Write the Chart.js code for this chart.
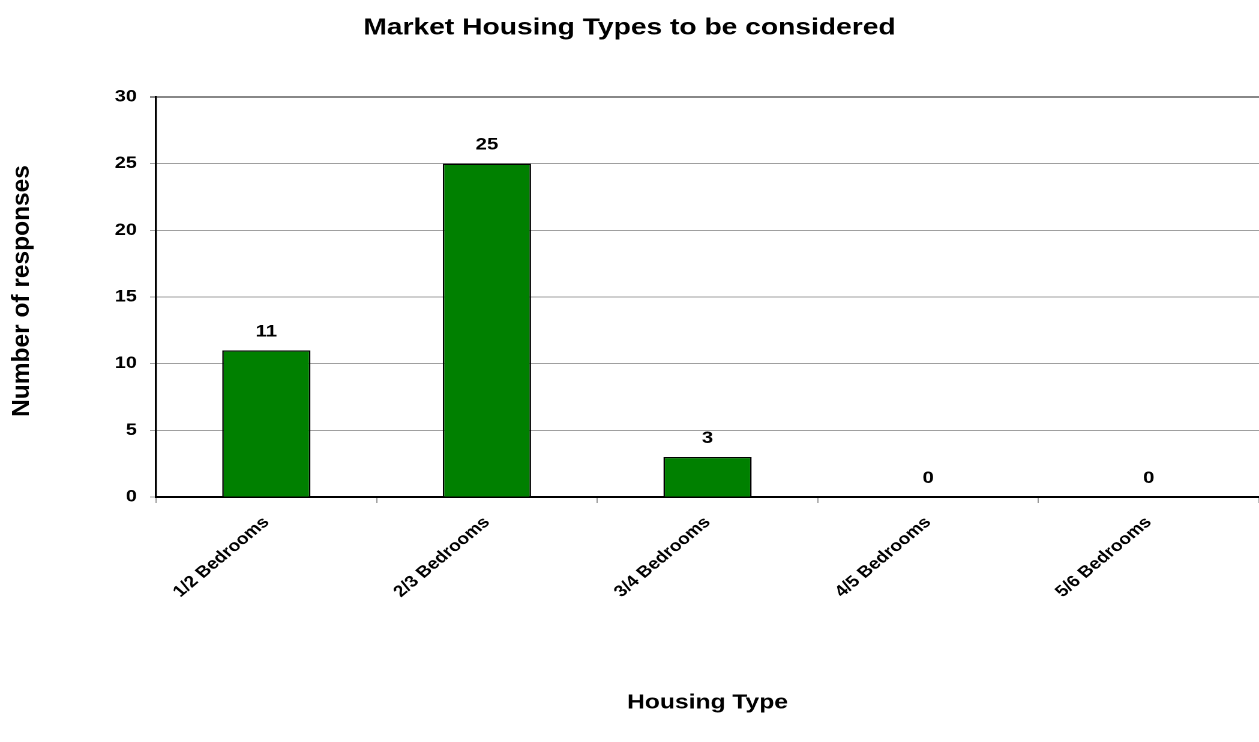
<!DOCTYPE html>
<html>
<head>
<meta charset="utf-8">
<title>Market Housing Types to be considered</title>
<script src="https://cdn.jsdelivr.net/npm/chart.js@4/dist/chart.umd.min.js"></script>
<style>
  html, body { margin: 0; padding: 0; background: #fff; overflow: hidden; }
  /* chart is laid out narrower, then widened to the full 1259px page */
  #wrap {
    width: 1049px; height: 742px; position: relative;
    transform: scaleX(1.2002); transform-origin: 0 0;
  }
</style>
</head>
<body>
<div id="wrap"><canvas id="chartHousing"></canvas></div>
<script>
const housingTypes = ["1/2 Bedrooms", "2/3 Bedrooms", "3/4 Bedrooms", "4/5 Bedrooms", "5/6 Bedrooms"];
const responses = [11, 25, 3, 0, 0];
const yTicks = [0, 5, 10, 15, 20, 25, 30];

const FONT = "'Liberation Sans', Arial, Helvetica, sans-serif";
const STRETCH = 1.2002;

// value printed above each bar
const barValues = {
  id: "barValues",
  afterDatasetsDraw(chart) {
    const ctx = chart.ctx;
    const meta = chart.getDatasetMeta(0);
    ctx.save();
    ctx.font = "bold 17px " + FONT;
    ctx.fillStyle = "#000";
    ctx.textAlign = "center";
    ctx.textBaseline = "alphabetic";
    meta.data.forEach((bar, i) => {
      ctx.fillText(String(responses[i]), bar.x, bar.y - 14);
    });
    ctx.restore();
  }
};

// vertical axis title, squeezed back so it keeps normal proportions after the widening
const yAxisTitle = {
  id: "yAxisTitle",
  afterDraw(chart) {
    const ctx = chart.ctx;
    ctx.save();
    ctx.translate(22 / STRETCH, 291);
    ctx.scale(1 / STRETCH, 1);
    ctx.rotate(-Math.PI / 2);
    ctx.font = "bold 24.5px " + FONT;
    ctx.fillStyle = "#000";
    ctx.textAlign = "center";
    ctx.textBaseline = "middle";
    ctx.fillText("Number of responses", 0, 0);
    ctx.restore();
  }
};

const topValue = yTicks[yTicks.length - 1];

new Chart(document.getElementById("chartHousing"), {
  type: "bar",
  data: {
    labels: housingTypes,
    datasets: [{
      data: responses,
      backgroundColor: "#008000",
      borderColor: "#000",
      borderWidth: 1.3,
      categoryPercentage: 1,
      barPercentage: 0.4
    }]
  },
  options: {
    responsive: true,
    maintainAspectRatio: false,
    animation: false,
    devicePixelRatio: 2,
    layout: { padding: { left: 0, right: 0, top: 0, bottom: 0 } },
    plugins: {
      legend: { display: false },
      tooltip: { enabled: false },
      title: {
        display: true,
        text: "Market Housing Types to be considered",
        color: "#000",
        font: { family: FONT, size: 23.5, weight: "bold", lineHeight: 1.2 },
        padding: { top: 14, bottom: 54.8 }
      }
    },
    scales: {
      x: {
        afterFit(scale) { scale.height = 245; },
        grid: {
          display: true,
          drawOnChartArea: false,
          offset: true,
          color: "#999",
          tickLength: 6
        },
        border: { color: "#000", width: 2 },
        ticks: {
          color: "#000",
          font: { family: FONT, size: 16, weight: "bold" },
          minRotation: 45,
          maxRotation: 45,
          padding: 10
        },
        title: {
          display: true,
          text: "Housing Type",
          color: "#000",
          font: { family: FONT, size: 20.5, weight: "bold", lineHeight: 1.2 },
          padding: { top: 0, bottom: 26.7 }
        }
      },
      y: {
        min: 0,
        max: 30,
        afterFit(scale) { scale.width = 130; },
        afterBuildTicks(scale) { scale.ticks = yTicks.map(v => ({ value: v })); },
        grid: {
          // the top line closes the plot area, a little heavier
          color: c => (c.tick && c.tick.value === topValue ? "#888" : "#a0a0a0"),
          lineWidth: c => (c.tick && c.tick.value === topValue ? 2 : 1),
          tickLength: 5
        },
        border: { color: "#000", width: 1.7 },
        ticks: {
          color: "#000",
          font: { family: FONT, size: 16.5, weight: "bold" },
          padding: 11
        }
      }
    }
  },
  plugins: [barValues, yAxisTitle]
});
</script>
</body>
</html>
